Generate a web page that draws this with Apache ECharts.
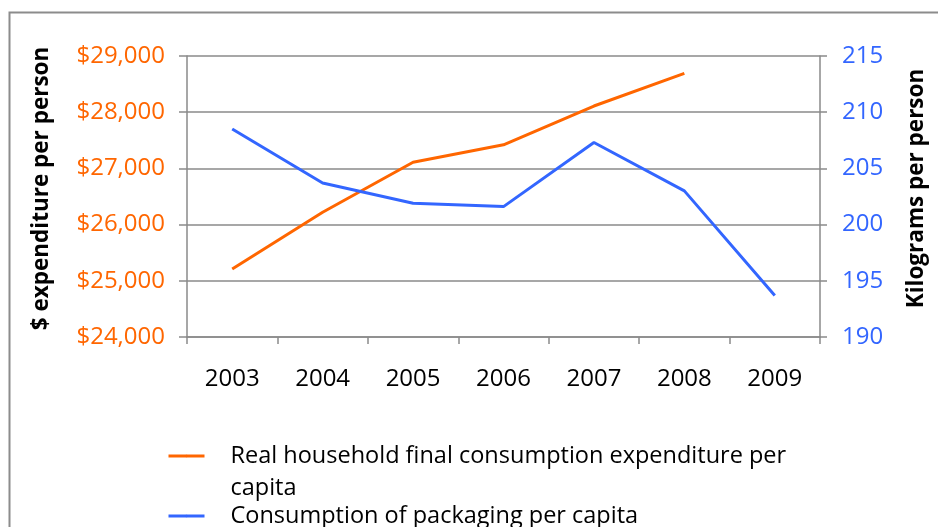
<!DOCTYPE html>
<html>
<head>
<meta charset="utf-8">
<script src="https://cdn.jsdelivr.net/npm/echarts@6/dist/echarts.min.js"></script>
<style>
  html, body { margin: 0; padding: 0; background: #ffffff; }
  #chart { width: 938px; height: 527px; }
</style>
</head>
<body>
<div id="chart"></div>
<script>
// Years on the category axis
const years = ['2003', '2004', '2005', '2006', '2007', '2008', '2009'];

// Real household final consumption expenditure per capita ($ per person)
const expenditure = [25210, 26220, 27110, 27420, 28110, 28690, null];

// Consumption of packaging per capita (kg per person)
const packaging = [208.5, 203.7, 201.9, 201.6, 207.3, 203.0, 193.7];

const expenditureName = 'Real household final consumption expenditure per capita';
const packagingName = 'Consumption of packaging per capita';

const ORANGE = '#FF6600';
const BLUE = '#3366FF';
const GRID_GRAY = '#8a8a8a';
const FONT = 'Open Sans';

const chart = echarts.init(document.getElementById('chart'), null, { renderer: 'canvas' });

const axisLineStyle = { show: true, lineStyle: { color: GRID_GRAY, width: 1.5 } };
const titleStyle = { color: '#000', fontSize: 22.5, fontWeight: 'bold', fontFamily: FONT, padding: [0, 0, 0, 16] };
const legendText = { fontFamily: FONT, fontSize: 23.5, color: '#000', lineHeight: 32, padding: [0, 0, 0, 21] };

chart.setOption({
  animation: false,
  backgroundColor: '#ffffff',
  textStyle: { fontFamily: FONT },
  graphic: [
    {
      type: 'rect',
      shape: { x: 9.5, y: 12.5, width: 1000, height: 600 },
      style: { fill: 'none', stroke: '#8c8c8c', lineWidth: 2 },
      silent: true
    }
  ],
  grid: { left: 187, right: 118, top: 56, bottom: 190, containLabel: false },
  legend: [
    {
      data: [expenditureName],
      orient: 'vertical',
      left: 167,
      top: 408,
      padding: 0,
      itemWidth: 36,
      itemHeight: 3,
      itemGap: 0,
      lineStyle: { width: 3 },
      // leading blank line keeps the first text line level with the legend line
      formatter: () => '\nReal household final consumption expenditure per\ncapita',
      textStyle: legendText
    },
    {
      data: [packagingName],
      orient: 'vertical',
      left: 167,
      top: 500,
      padding: 0,
      itemWidth: 36,
      itemHeight: 3,
      lineStyle: { width: 3 },
      textStyle: legendText
    }
  ],
  xAxis: {
    type: 'category',
    data: years,
    boundaryGap: true,
    axisLine: axisLineStyle,
    axisTick: { show: true, length: 7, alignWithLabel: false, lineStyle: { color: GRID_GRAY, width: 1.5 } },
    axisLabel: { color: '#000', fontSize: 24, fontFamily: FONT, margin: 30 },
    splitLine: { show: false }
  },
  yAxis: [
    {
      type: 'value',
      position: 'left',
      min: 24000,
      max: 29000,
      interval: 1000,
      name: '$ expenditure per person',
      nameLocation: 'middle',
      nameRotate: 90,
      nameGap: 134,
      nameTextStyle: titleStyle,
      axisLine: axisLineStyle,
      axisTick: { show: true, length: 8, lineStyle: { color: GRID_GRAY, width: 1.5 } },
      axisLabel: {
        color: ORANGE,
        fontSize: 24,
        fontFamily: FONT,
        margin: 22,
        formatter: v => '$' + v.toLocaleString('en-US')
      },
      splitLine: { show: true, lineStyle: { color: GRID_GRAY, width: 1.5 } }
    },
    {
      type: 'value',
      position: 'right',
      min: 190,
      max: 215,
      interval: 5,
      name: 'Kilograms per person',
      nameLocation: 'middle',
      nameRotate: 90,
      nameGap: 85,
      nameTextStyle: titleStyle,
      axisLine: axisLineStyle,
      axisTick: { show: true, length: 7, lineStyle: { color: GRID_GRAY, width: 1.5 } },
      axisLabel: { color: BLUE, fontSize: 24, fontFamily: FONT, margin: 22 },
      splitLine: { show: false }
    }
  ],
  series: [
    {
      name: expenditureName,
      type: 'line',
      yAxisIndex: 0,
      data: expenditure,
      showSymbol: false,
      symbol: 'none',
      lineStyle: { color: ORANGE, width: 3 },
      itemStyle: { color: ORANGE }
    },
    {
      name: packagingName,
      type: 'line',
      yAxisIndex: 1,
      data: packaging,
      showSymbol: false,
      symbol: 'none',
      lineStyle: { color: BLUE, width: 3 },
      itemStyle: { color: BLUE }
    }
  ]
});
</script>
</body>
</html>
